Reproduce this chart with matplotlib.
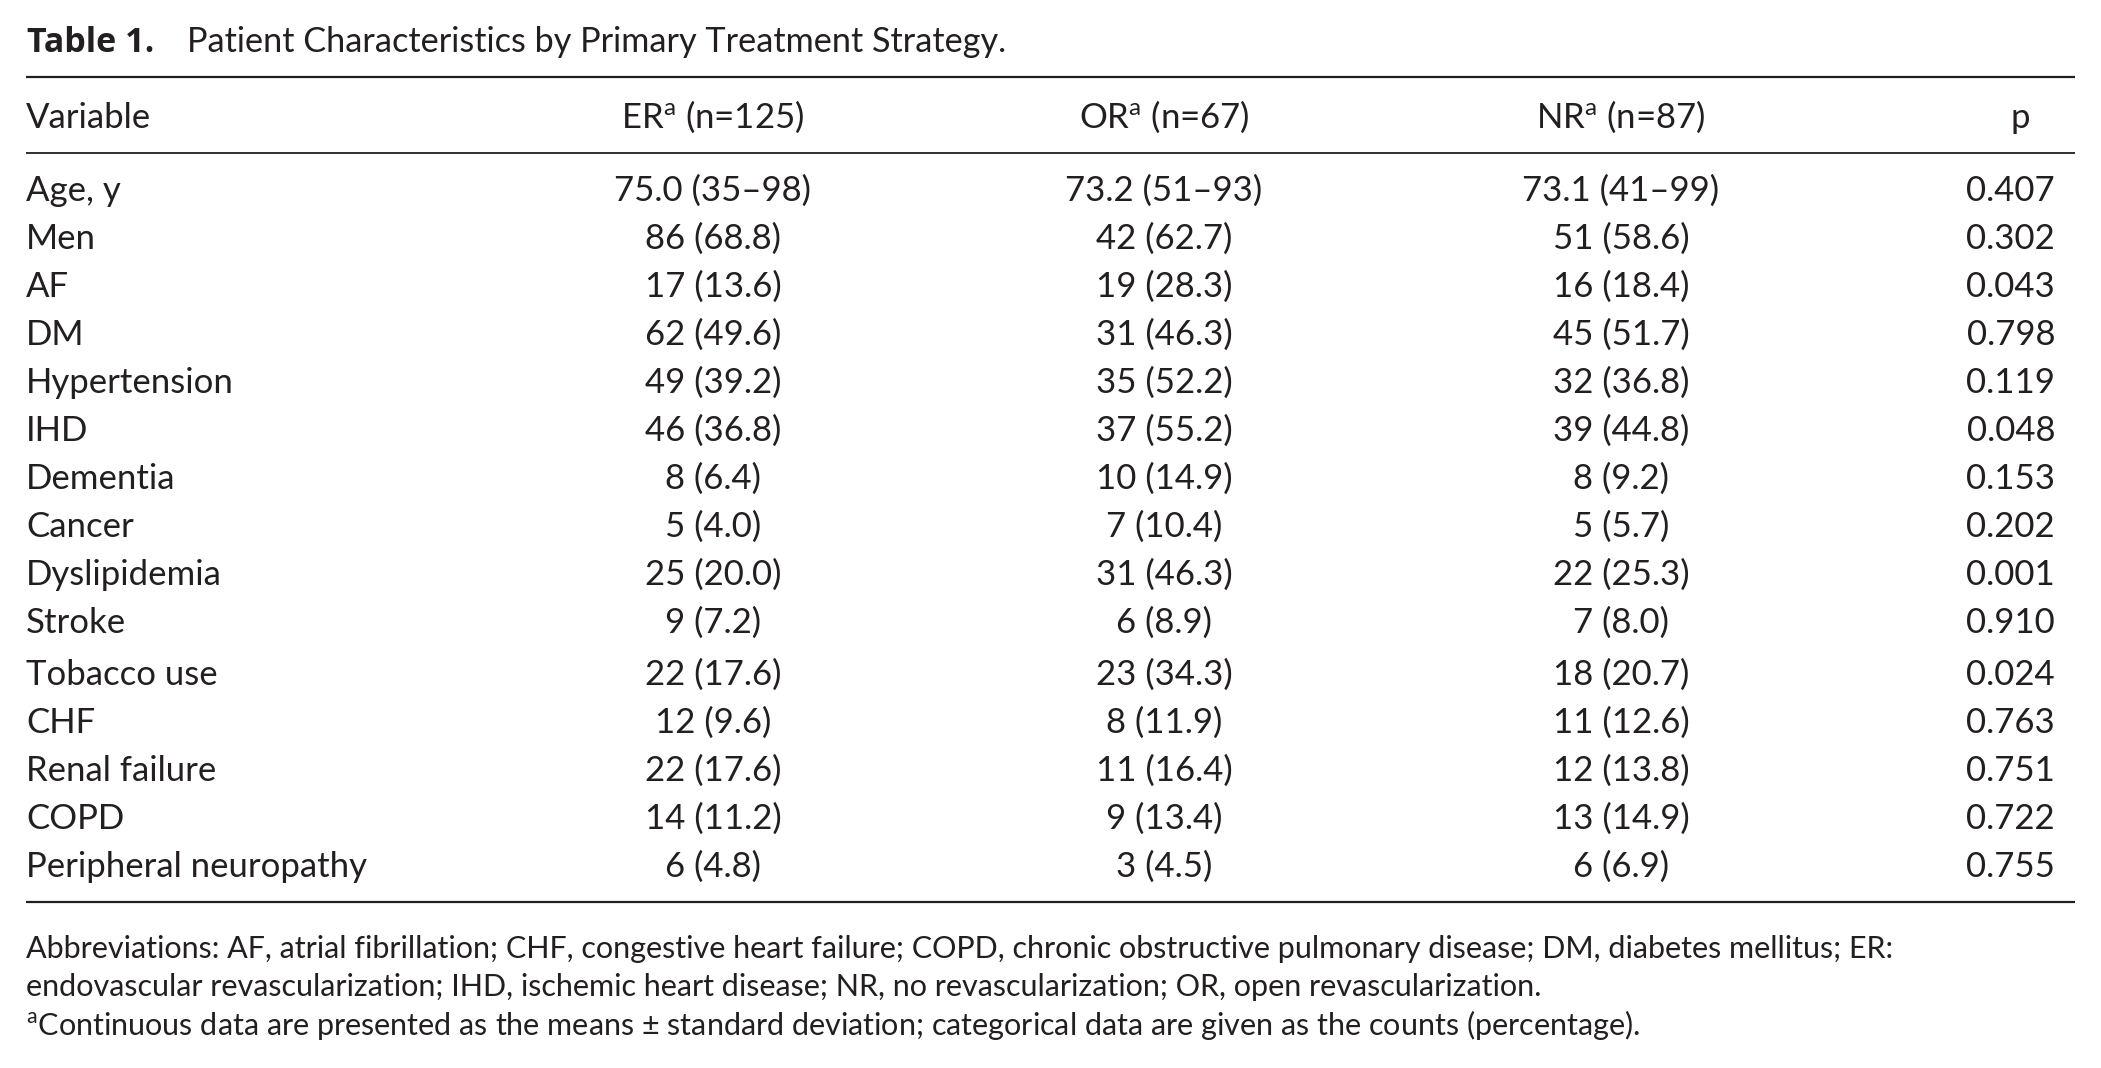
import matplotlib
matplotlib.use("Agg")
import matplotlib.pyplot as plt

# ---------------- data ----------------
title_bold = "Table 1."
title_text = "Patient Characteristics by Primary Treatment Strategy."

col_headers = ["Variable", r"ER$^{\mathrm{a}}$ (n=125)", r"OR$^{\mathrm{a}}$ (n=67)",
               r"NR$^{\mathrm{a}}$ (n=87)", "p"]

variables = ["Age, y", "Men", "AF", "DM", "Hypertension", "IHD", "Dementia", "Cancer",
             "Dyslipidemia", "Stroke", "Tobacco use", "CHF", "Renal failure", "COPD",
             "Peripheral neuropathy"]

er_values = ["75.0 (35–98)", "86 (68.8)", "17 (13.6)", "62 (49.6)", "49 (39.2)", "46 (36.8)",
             "8 (6.4)", "5 (4.0)", "25 (20.0)", "9 (7.2)", "22 (17.6)", "12 (9.6)",
             "22 (17.6)", "14 (11.2)", "6 (4.8)"]

or_values = ["73.2 (51–93)", "42 (62.7)", "19 (28.3)", "31 (46.3)", "35 (52.2)", "37 (55.2)",
             "10 (14.9)", "7 (10.4)", "31 (46.3)", "6 (8.9)", "23 (34.3)", "8 (11.9)",
             "11 (16.4)", "9 (13.4)", "3 (4.5)"]

nr_values = ["73.1 (41–99)", "51 (58.6)", "16 (18.4)", "45 (51.7)", "32 (36.8)", "39 (44.8)",
             "8 (9.2)", "5 (5.7)", "22 (25.3)", "7 (8.0)", "18 (20.7)", "11 (12.6)",
             "12 (13.8)", "13 (14.9)", "6 (6.9)"]

p_values = ["0.407", "0.302", "0.043", "0.798", "0.119", "0.048", "0.153", "0.202",
            "0.001", "0.910", "0.024", "0.763", "0.751", "0.722", "0.755"]

footnotes = [
    "Abbreviations: AF, atrial fibrillation; CHF, congestive heart failure; COPD, chronic obstructive pulmonary disease; DM, diabetes mellitus; ER:",
    "endovascular revascularization; IHD, ischemic heart disease; NR, no revascularization; OR, open revascularization.",
    r"$^{\mathrm{a}}$Continuous data are presented as the means ± standard deviation; categorical data are given as the counts (percentage).",
]

# ---------------- style ----------------
plt.rcParams["font.family"] = ["Lato", "DejaVu Sans"]
plt.rcParams["mathtext.fontset"] = "custom"
plt.rcParams["mathtext.rm"] = "Lato"
plt.rcParams["mathtext.it"] = "Lato:italic"
plt.rcParams["mathtext.bf"] = "Lato:bold"

INK = "#231f20"
W, H = 2101, 1068
fig = plt.figure(figsize=(W / 100, H / 100), dpi=100)
ax = fig.add_axes([0, 0, 1, 1])
ax.set_xlim(0, W)
ax.set_ylim(H, 0)
ax.axis("off")

body_fs = 25
title_fs = 24.7
foot_fs = 22

# title
ax.text(27, 52, title_bold, fontsize=24.5, fontweight="bold", color=INK, va="baseline", ha="left",
        family=["Open Sans", "Lato", "DejaVu Sans"])
ax.text(187, 52, title_text, fontsize=title_fs, color=INK, va="baseline", ha="left")

# rules
x_left, x_right = 26, 2075
ax.plot([x_left, x_right], [77, 77], color=INK, lw=1.6, solid_capstyle="butt")
ax.plot([x_left, x_right], [153, 153], color=INK, lw=1.3, solid_capstyle="butt")
ax.plot([x_left, x_right], [902, 902], color=INK, lw=1.6, solid_capstyle="butt")

# column layout
col_x = [26, 713, 1164, 1621]
p_header_x = 2020
p_right_x = 2055

header_base = 128
ax.text(col_x[0], header_base, col_headers[0], fontsize=body_fs, color=INK, ha="left", va="baseline")
for j in range(1, 4):
    ax.text(col_x[j], header_base, col_headers[j], fontsize=body_fs, color=INK, ha="center", va="baseline")
ax.text(p_header_x, header_base, col_headers[4], fontsize=body_fs, color=INK, ha="center", va="baseline")

# rows
first_base = 201
row_step = 48
for i, var in enumerate(variables):
    y = first_base + i * row_step + (4 if i >= 10 else 0)
    ax.text(col_x[0], y, var, fontsize=body_fs, color=INK, ha="left", va="baseline")
    ax.text(col_x[1], y, er_values[i], fontsize=body_fs, color=INK, ha="center", va="baseline")
    ax.text(col_x[2], y, or_values[i], fontsize=body_fs, color=INK, ha="center", va="baseline")
    ax.text(col_x[3], y, nr_values[i], fontsize=body_fs, color=INK, ha="center", va="baseline")
    ax.text(p_right_x, y, p_values[i], fontsize=body_fs, color=INK, ha="right", va="baseline")

# footnotes
foot_bases = [958, 996, 1035]
for yb, line in zip(foot_bases, footnotes):
    ax.text(26, yb, line, fontsize=foot_fs, color=INK, ha="left", va="baseline")

fig.savefig("out.png", dpi=100, facecolor="white")
